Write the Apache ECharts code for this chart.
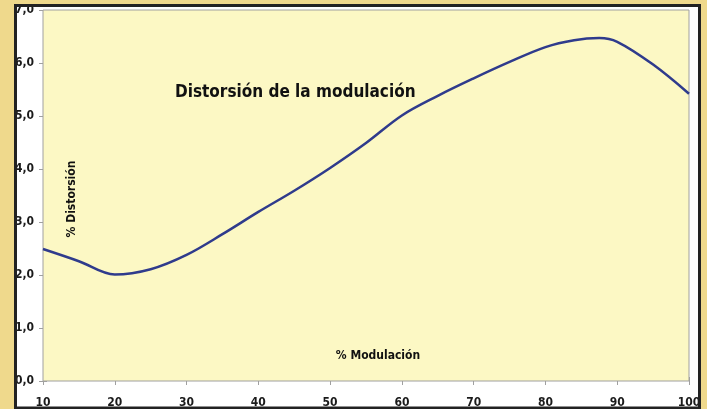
<!DOCTYPE html>
<html>
<head>
<meta charset="utf-8">
<script src="https://cdn.jsdelivr.net/npm/echarts@6/dist/echarts.min.js"></script>
<style>
  html, body { margin: 0; padding: 0; background: #efd98c; }
  #chart { width: 707px; height: 409px; }
</style>
</head>
<body>
<div id="chart"></div>
<script>
// datos
const modulacion = [10, 15, 20, 25, 30, 35, 40, 45, 50, 55, 60, 65, 70, 75, 80, 84, 87.5, 90, 95, 100];
const distorsion = [2.49, 2.26, 2.01, 2.11, 2.38, 2.77, 3.19, 3.59, 4.02, 4.49, 5.01, 5.38, 5.71, 6.02, 6.30, 6.43, 6.47, 6.40, 5.97, 5.42];
const titulo = 'Distorsión de la modulación';
const ejeX = '% Modulación';
const ejeY = '% Distorsión';

const font = "'Liberation Sans Narrow', 'DejaVu Sans Condensed', sans-serif";
const chart = echarts.init(document.getElementById('chart'));

const points = modulacion.map((m, i) => [m, distorsion[i]]);
const fmt = v => v.toFixed(1).replace('.', ',');

chart.setOption({
  backgroundColor: '#efd98c',
  animation: false,
  grid: {
    left: 43, top: 10, right: 18, bottom: 27,
    show: true,
    backgroundColor: '#fcf8c4',
    borderColor: '#a0a0a0',
    borderWidth: 1,
    z: 1
  },
  xAxis: [
    {
      type: 'value', min: 10, max: 100, interval: 10,
      axisLine: { show: false },
      axisTick: { show: true, length: 4, lineStyle: { color: '#a0a0a0' } },
      splitLine: { show: false },
      axisLabel: { margin: 16, color: '#1a1a1a', fontSize: 12, fontWeight: 'bold', fontFamily: font }
    },
    {
      type: 'value', min: 10, max: 100, interval: 10, position: 'bottom',
      axisLine: { show: false },
      axisTick: { show: true, inside: true, length: 4, lineStyle: { color: '#a0a0a0' } },
      splitLine: { show: false },
      axisLabel: { show: false }
    }
  ],
  yAxis: [
    {
      type: 'value', min: 0, max: 7, interval: 1,
      axisLine: { show: false },
      axisTick: { show: true, length: 4, lineStyle: { color: '#a0a0a0' } },
      splitLine: { show: false },
      axisLabel: { margin: 9, color: '#1a1a1a', fontSize: 12, fontWeight: 'bold', fontFamily: font, formatter: fmt }
    },
    {
      type: 'value', min: 0, max: 7, interval: 1, position: 'left',
      axisLine: { show: false },
      axisTick: { show: true, inside: true, length: 4, lineStyle: { color: '#a0a0a0' } },
      splitLine: { show: false },
      axisLabel: { show: false }
    }
  ],
  graphic: [
    {
      type: 'rect', z: -10, silent: true,
      shape: { x: 15.5, y: 5.5, width: 684, height: 402.5 },
      style: { fill: '#ffffff' }
    },
    {
      type: 'rect', z: 100, silent: true,
      shape: { x: 15.5, y: 5.5, width: 684, height: 402.5 },
      style: { fill: null, stroke: '#222222', lineWidth: 3 }
    },
    {
      type: 'text', z: 50, left: 175, top: 84,
      style: { text: titulo, fill: '#111', font: 'bold 17px ' + font }
    },
    {
      type: 'text', z: 50, x: 72, y: 199, rotation: Math.PI / 2,
      style: { text: ejeY, fill: '#111', font: 'bold 12px ' + font, textAlign: 'center', textVerticalAlign: 'middle' }
    },
    {
      type: 'text', z: 50, x: 378, y: 356,
      style: { text: ejeX, fill: '#111', font: 'bold 12px ' + font, textAlign: 'center', textVerticalAlign: 'middle' }
    }
  ],
  series: [{
    type: 'line',
    data: points,
    smooth: 0.35,
    showSymbol: false,
    z: 5,
    lineStyle: { color: '#2f3b8c', width: 2.5 }
  }]
});
</script>
</body>
</html>
